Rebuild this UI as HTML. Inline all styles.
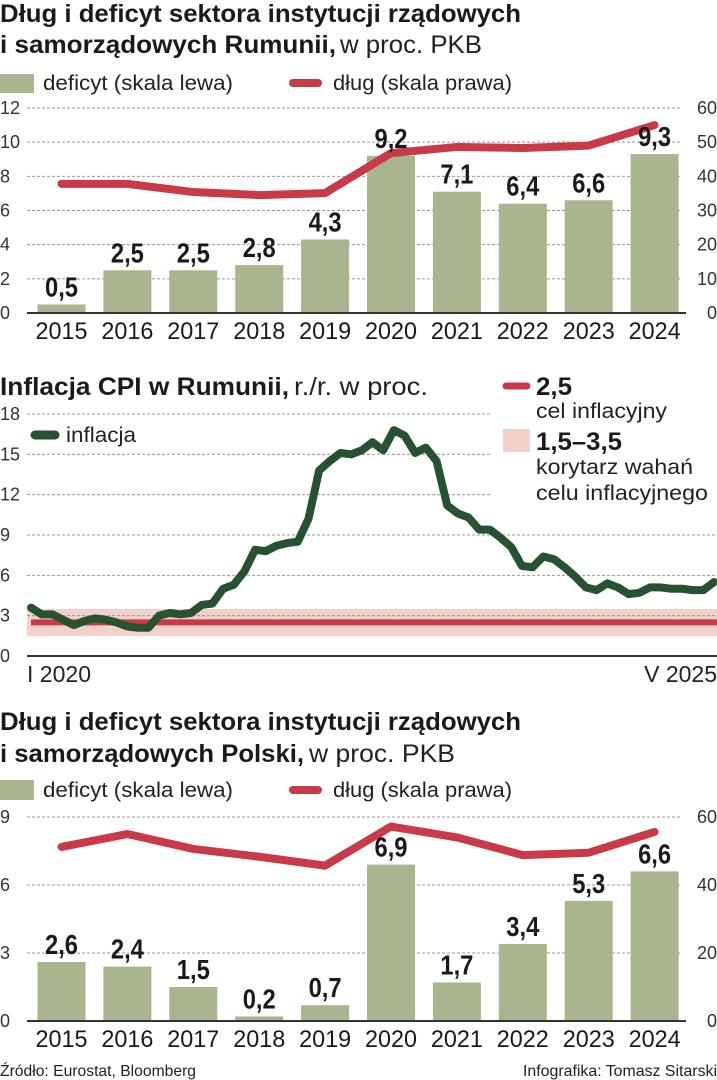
<!DOCTYPE html>
<html><head><meta charset="utf-8"><style>
html,body{margin:0;padding:0;background:#fff}
svg{display:block;font-family:"Liberation Sans Narrow","Liberation Sans",sans-serif}
.t{font-weight:bold;fill:#1a1a1a}
.l{fill:#222}
</style></head><body>
<svg id="s" width="717" height="1080" viewBox="0 0 717 1080">
<text class="t" x="0" y="22" font-size="25" textLength="521" lengthAdjust="spacingAndGlyphs">Dług i deficyt sektora instytucji rządowych</text>
<text x="0" y="53" font-size="25"><tspan class="t" textLength="336" lengthAdjust="spacingAndGlyphs">i samorządowych Rumunii,</tspan><tspan class="l" x="340" textLength="142" lengthAdjust="spacingAndGlyphs">w proc. PKB</tspan></text>
<rect x="0" y="74" width="34" height="19" fill="#a8b58f"/>
<text class="l" x="43" y="90" font-size="21" textLength="190" lengthAdjust="spacingAndGlyphs">deficyt (skala lewa)</text>
<line x1="293" y1="83" x2="318" y2="83" stroke="#c83a47" stroke-width="8" stroke-linecap="round"/>
<text class="l" x="333" y="90" font-size="21" textLength="179" lengthAdjust="spacingAndGlyphs">dług (skala prawa)</text>
<g id="c1"></g>

<text x="0" y="395" font-size="25"><tspan class="t" textLength="289" lengthAdjust="spacingAndGlyphs">Inflacja CPI w Rumunii,</tspan><tspan class="l" x="294" textLength="134" lengthAdjust="spacingAndGlyphs">r./r. w proc.</tspan></text>
<g id="c2"></g>
<line x1="506" y1="386" x2="527" y2="386" stroke="#c83a47" stroke-width="7" stroke-linecap="round"/>
<text class="t" x="536" y="395" font-size="25" textLength="36" lengthAdjust="spacingAndGlyphs">2,5</text>
<text class="l" x="536" y="418" font-size="21" textLength="131" lengthAdjust="spacingAndGlyphs">cel inflacyjny</text>
<rect x="503" y="429" width="27" height="23" fill="#f2d1cb"/>
<text class="t" x="536" y="450" font-size="25" textLength="86" lengthAdjust="spacingAndGlyphs">1,5–3,5</text>
<text class="l" x="536" y="474" font-size="21" textLength="157" lengthAdjust="spacingAndGlyphs">korytarz wahań</text>
<text class="l" x="536" y="500" font-size="21" textLength="172" lengthAdjust="spacingAndGlyphs">celu inflacyjnego</text>
<line x1="35" y1="435" x2="55" y2="435" stroke="#275232" stroke-width="9" stroke-linecap="round"/>
<text class="l" x="66" y="442" font-size="21" textLength="70" lengthAdjust="spacingAndGlyphs">inflacja</text>
<text class="l" x="27" y="682" font-size="23" textLength="64" lengthAdjust="spacingAndGlyphs">I 2020</text>
<text class="l" x="717" y="682" font-size="23" text-anchor="end">V 2025</text>

<text class="t" x="0" y="730" font-size="25" textLength="521" lengthAdjust="spacingAndGlyphs">Dług i deficyt sektora instytucji rządowych</text>
<text x="0" y="762" font-size="25"><tspan class="t" textLength="304" lengthAdjust="spacingAndGlyphs">i samorządowych Polski,</tspan><tspan class="l" x="309" textLength="146" lengthAdjust="spacingAndGlyphs">w proc. PKB</tspan></text>
<rect x="0" y="780" width="34" height="20" fill="#a8b58f"/>
<text class="l" x="43" y="797" font-size="21" textLength="190" lengthAdjust="spacingAndGlyphs">deficyt (skala lewa)</text>
<line x1="293" y1="790" x2="318" y2="790" stroke="#c83a47" stroke-width="8" stroke-linecap="round"/>
<text class="l" x="333" y="797" font-size="21" textLength="179" lengthAdjust="spacingAndGlyphs">dług (skala prawa)</text>
<g id="c3"></g>

<text class="l" x="0" y="1076" font-size="16" textLength="196" lengthAdjust="spacingAndGlyphs">Źródło: Eurostat, Bloomberg</text>
<text class="l" x="717" y="1076" font-size="16" text-anchor="end" textLength="194" lengthAdjust="spacingAndGlyphs">Infografika: Tomasz Sitarski</text>
</svg>
<script>
const years = ['2015','2016','2017','2018','2019','2020','2021','2022','2023','2024'];
const roDeficit = [0.5,2.5,2.5,2.8,4.3,9.2,7.1,6.4,6.6,9.3];
const roDebt = [37.8,37.8,35.4,34.5,35.1,46.8,48.6,48.3,49.0,55.0];
const roLeftTicks = [0,2,4,6,8,10,12];
const roRightTicks = [0,10,20,30,40,50,60];
const plDeficit = [2.6,2.4,1.5,0.2,0.7,6.9,1.7,3.4,5.3,6.6];
const plDebt = [51.2,55.0,50.6,48.3,45.7,57.2,54.0,48.8,49.5,55.6];
const plLeftTicks = [0,3,6,9];
const plRightTicks = [0,20,40,60];
const inflation = [3.6,3.1,3.1,2.7,2.3,2.6,2.8,2.7,2.5,2.2,2.1,2.1,
 3.0,3.2,3.1,3.2,3.8,3.9,5.0,5.3,6.3,7.9,7.8,8.2,
 8.4,8.5,10.2,13.8,14.5,15.1,15.0,15.3,15.9,15.3,16.8,16.4,
 15.1,15.5,14.5,11.2,10.6,10.3,9.4,9.4,8.8,8.1,6.7,6.6,
 7.4,7.2,6.6,5.9,5.1,4.9,5.4,5.1,4.6,4.7,5.1,5.1,
 5.0,5.0,4.9,4.9,5.5];
const inflTicks = [0,3,6,9,12,15,18];
const target = [2.5];
const band = [1.5,3.5];

const NS='http://www.w3.org/2000/svg';
function mk(p,tag,a,txt){const e=document.createElementNS(NS,tag);for(const k in a)e.setAttribute(k,a[k]);if(txt!==undefined)e.textContent=txt;p.appendChild(e);return e;}

function barChart(g,deficit,debt,lt,rt,lmax,rmax,y0,y1,prefix){
  const yL=v=>y0-(v/lmax)*(y0-y1), yR=v=>y0-(v/rmax)*(y0-y1);
  const xc=i=>61.5+i*65.9;
  lt.forEach(t=>{
    if(t>0){const gl=mk(g,'line',{x1:27,x2:680,y1:yL(t),y2:yL(t),stroke:'#999','stroke-width':1,'stroke-dasharray':'3,2'});
    
    }
    const tx=mk(g,'text',{x:0,y:yL(t)+6,'font-size':18,fill:'#333'},String(t));
    
    
  });
  rt.forEach(t=>{
    const tx=mk(g,'text',{x:717,y:yR(t)+6,'font-size':18,fill:'#333','text-anchor':'end'},String(t));
    
    
  });
  deficit.forEach((v,i)=>{
    const r=mk(g,'rect',{x:xc(i)-24,y:yL(v),width:48,height:y0-yL(v),fill:'#a8b58f'});
    
    
  });
  const ax=mk(g,'line',{x1:27,x2:686,y1:y0,y2:y0,stroke:'#333','stroke-width':2});
  
  
  const pts=debt.map((v,i)=>xc(i)+','+yR(v)).join(' ');
  const pl=mk(g,'polyline',{points:pts,fill:'none',stroke:'#c83a47','stroke-width':8,'stroke-linecap':'round','stroke-linejoin':'round'});
  
  
  deficit.forEach((v,i)=>{
    const t=mk(g,'text',{x:xc(i),y:yL(v)-8,'font-size':28,'font-weight':'bold',fill:'#1a1a1a','text-anchor':'middle',textLength:33,lengthAdjust:'spacingAndGlyphs'},v.toFixed(1).replace('.',','));
    
    
  });
  years.forEach((y,i)=>{
    const t=mk(g,'text',{x:xc(i),y:y0+26,'font-size':24,fill:'#1a1a1a','text-anchor':'middle',textLength:52,lengthAdjust:'spacingAndGlyphs'},y);
    
    
  });
}
barChart(document.getElementById('c1'),roDeficit,roDebt,roLeftTicks,roRightTicks,12,60,313,108,'romania');
barChart(document.getElementById('c3'),plDeficit,plDebt,plLeftTicks,plRightTicks,9,60,1021,817,'poland');

(function(){
  const g=document.getElementById('c2');
  const y0=656,y1=414,y=v=>y0-(v/18)*(y0-y1);
  const x=i=>31+i*(683/(inflation.length-1));
  const b=mk(g,'rect',{x:27,y:y(band[1]),width:690,height:y(band[0])-y(band[1]),fill:'#f2d1cb'});
  
  
  inflTicks.forEach(t=>{
    if(t>0){const gl=mk(g,'line',{x1:27,x2:(t>=12?492:717),y1:y(t),y2:y(t),stroke:'#999','stroke-width':1,'stroke-dasharray':'3,2'});
    
    }
    const tx=mk(g,'text',{x:0,y:y(t)+6,'font-size':18,fill:'#333'},String(t));
    
    
  });
  const tl=mk(g,'line',{x1:31,x2:717,y1:y(target[0]),y2:y(target[0]),stroke:'#c83a47','stroke-width':6});
  
  
  const ax=mk(g,'line',{x1:27,x2:717,y1:y0,y2:y0,stroke:'#333','stroke-width':2});
  
  
  const pl=mk(g,'polyline',{points:inflation.map((v,i)=>x(i)+','+y(v)).join(' '),fill:'none',stroke:'#275232','stroke-width':8,'stroke-linejoin':'round','stroke-linecap':'round'});
  
  
})();
</script>
</body></html>
